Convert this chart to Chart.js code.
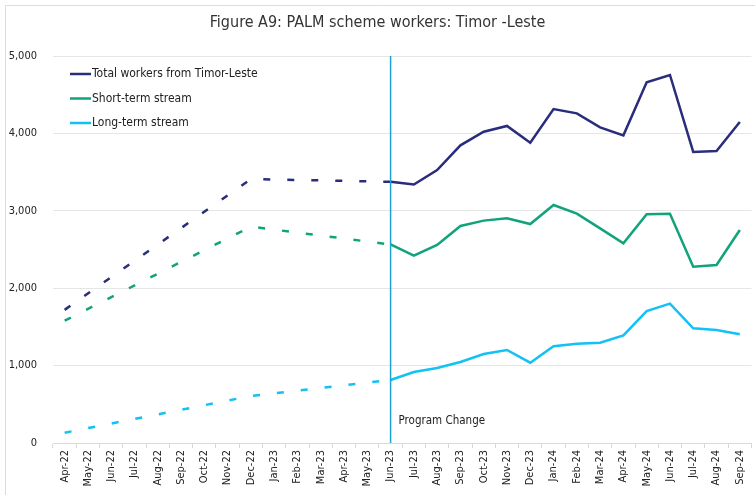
<!DOCTYPE html>
<html>
<head>
<meta charset="utf-8">
<script src="https://cdn.jsdelivr.net/npm/chart.js@4.4.1/dist/chart.umd.min.js"></script>
<style>
    html, body { margin: 0; padding: 0; background: #fff; overflow: hidden; }
    #wrap { position: relative; width: 755px; height: 495px; }
</style>
</head>
<body>
<div id="wrap"><canvas id="chart"></canvas></div>
<script>
const months = ['Apr-22', 'May-22', 'Jun-22', 'Jul-22', 'Aug-22', 'Sep-22', 'Oct-22', 'Nov-22', 'Dec-22',
    'Jan-23', 'Feb-23', 'Mar-23', 'Apr-23', 'May-23', 'Jun-23', 'Jul-23', 'Aug-23', 'Sep-23', 'Oct-23',
    'Nov-23', 'Dec-23', 'Jan-24', 'Feb-24', 'Mar-24', 'Apr-24', 'May-24', 'Jun-24', 'Jul-24', 'Aug-24', 'Sep-24'];

// before Jun-23 only Apr-22, Dec-22 and Jun-23 are known (dashed in the figure)
const totalWorkers = [1720, null, null, null, null, null, null, null, 3410,
    null, null, null, null, null, 3375, 3340, 3527, 3846, 4022,
    4096, 3880, 4315, 4259, 4078, 3975, 4660, 4755, 3760, 3773, 4147];
const shortTerm = [1580, null, null, null, null, null, null, null, 2795,
    null, null, null, null, null, 2565, 2420, 2558, 2804, 2873,
    2903, 2829, 3075, 2963, 2773, 2580, 2955, 2963, 2278, 2300, 2752];
const longTerm = [133, null, null, null, null, null, null, null, 607,
    null, null, null, null, null, 814, 917, 969, 1047, 1150,
    1202, 1038, 1249, 1283, 1296, 1391, 1705, 1800, 1481, 1460, 1404];

const changeMonth = 'Jun-23';
const changeIndex = months.indexOf(changeMonth);

const fontName = "'DejaVu Sans Condensed', 'DejaVu Sans', sans-serif";

function makeSeries(label, data, color) {
    return {
        label: label,
        data: data,
        borderColor: color,
        backgroundColor: color,
        borderWidth: 2.5,
        pointRadius: 0,
        spanGaps: true,
        tension: 0,
        segment: {
            borderDash: ctx => ctx.p1DataIndex <= changeIndex ? [7, 17] : undefined
        }
    };
}

// frame, legend inside the plot (top left) and the program change marker
const extras = {
    id: 'extras',
    beforeDraw(chart) {
        const ctx = chart.ctx;
        ctx.save();
        ctx.strokeStyle = '#dcdcdc';
        ctx.lineWidth = 1;
        ctx.beginPath();
        ctx.moveTo(5.5, chart.height);
        ctx.lineTo(5.5, 5.5);
        ctx.lineTo(chart.width, 5.5);
        ctx.stroke();
        ctx.restore();
    },
    afterDatasetsDraw(chart) {
        const ctx = chart.ctx;
        const area = chart.chartArea;
        const x = chart.scales.x.getPixelForValue(changeIndex);
        ctx.save();
        ctx.strokeStyle = '#1aa3d4';
        ctx.lineWidth = 1.5;
        ctx.beginPath();
        ctx.moveTo(x, area.top);
        ctx.lineTo(x, area.bottom);
        ctx.stroke();
        ctx.fillStyle = '#222';
        ctx.font = '11.5px ' + fontName;
        ctx.textBaseline = 'middle';
        ctx.fillText('Program Change', x + 8, area.bottom - 22);

        ctx.font = '12px ' + fontName;
        chart.data.datasets.forEach((ds, i) => {
            const y = 74 + i * 24.5;
            ctx.strokeStyle = ds.borderColor;
            ctx.lineWidth = 2.5;
            ctx.beginPath();
            ctx.moveTo(70, y);
            ctx.lineTo(91, y);
            ctx.stroke();
            ctx.fillStyle = '#222';
            ctx.fillText(ds.label, 92, y);
        });
        ctx.restore();
    }
};

new Chart(document.getElementById('chart'), {
    type: 'line',
    data: {
        labels: months,
        datasets: [
            makeSeries('Total workers from Timor-Leste', totalWorkers, '#2a2c7c'),
            makeSeries('Short-term stream', shortTerm, '#11a37b'),
            makeSeries('Long-term stream', longTerm, '#12c2f4')
        ]
    },
    options: {
        responsive: true,
        maintainAspectRatio: false,
        animation: false,
        layout: { padding: { left: 0, right: 0, top: 0, bottom: 0 } },
        plugins: {
            legend: { display: false },
            tooltip: { enabled: false },
            title: {
                display: true,
                text: 'Figure A9: PALM scheme workers: Timor -Leste',
                color: '#333',
                font: { family: fontName, size: 16, weight: 'normal' },
                padding: { top: 13, bottom: 23.8 }
            }
        },
        scales: {
            x: {
                offset: true,
                grid: { display: true, offset: true, drawOnChartArea: false, drawTicks: true, tickLength: 5, color: '#d9d9d9' },
                border: { display: true, color: '#d9d9d9' },
                ticks: {
                    minRotation: 90, maxRotation: 90, autoSkip: false,
                    color: '#222', padding: 2,
                    font: { family: fontName, size: 11 }
                },
                afterFit: scale => { scale.height = 52; }
            },
            y: {
                min: 0, max: 5000,
                grid: { color: '#e6e6e6', drawTicks: false },
                border: { display: false },
                ticks: {
                    stepSize: 1000, color: '#222', padding: 16,
                    font: { family: fontName, size: 11 },
                    callback: v => v.toLocaleString('en-US')
                },
                afterFit: scale => { scale.width = 53; }
            }
        }
    },
    plugins: [extras]
});
</script>
</body>
</html>
